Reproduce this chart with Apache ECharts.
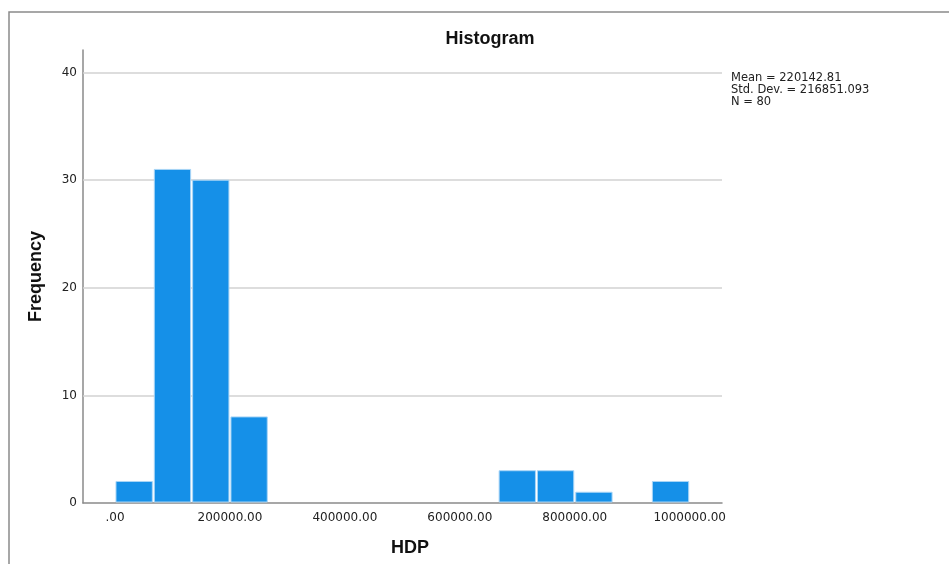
<!DOCTYPE html>
<html>
<head>
<meta charset="utf-8">
<script src="https://cdn.jsdelivr.net/npm/echarts@6.0.0/dist/echarts.min.js"></script>
<style>
html,body{margin:0;padding:0;background:#fff;}
#chart{width:949px;height:564px;}
</style>
</head>
<body>
<div id="chart"></div>
<script>
// Histogram bin edges (HDP) and frequencies
const binEdges = [0, 66667, 133333, 200000, 266667, 333333, 400000, 466667, 533333, 600000, 666667, 733333, 800000, 866667, 933333, 1000000];
const frequencies = [2, 31, 30, 8, 0, 0, 0, 0, 0, 0, 3, 3, 1, 0, 2];
const xTickValues = [0, 200000, 400000, 600000, 800000, 1000000];
const xTickLabels = ['.00', '200000.00', '400000.00', '600000.00', '800000.00', '1000000.00'];
const yTickValues = [0, 10, 20, 30, 40];
const statsLines = ['Mean = 220142.81', 'Std. Dev. = 216851.093', 'N = 80'];

const binData = frequencies.map((f, i) => [binEdges[i], binEdges[i + 1], f]);

const chart = echarts.init(document.getElementById('chart'), null, {renderer: 'canvas'});
const option = {
  animation: false,
  backgroundColor: '#fff',
  title: {
    text: 'Histogram', left: 485, top: 25, textAlign: 'center',
    textStyle: {fontFamily: 'Liberation Sans', fontWeight: 'bold', fontSize: 18, color: '#111'}
  },
  grid: {left: 83, right: 227, top: 50, bottom: 61, containLabel: false},
  xAxis: {
    type: 'value', min: -55680, max: 1056200,
    minInterval: 200000, maxInterval: 200000,
    name: 'HDP', nameLocation: 'middle', nameGap: 36,
    nameTextStyle: {fontFamily: 'Liberation Sans', fontWeight: 'bold', fontSize: 18, color: '#111', padding: [0, 0, 0, 15]},
    axisLine: {show: true, onZero: false, lineStyle: {color: '#8a8a8a', width: 1.5}},
    axisTick: {show: false},
    splitLine: {show: false},
    axisLabel: {
      margin: 9, fontFamily: 'DejaVu Sans', fontSize: 12, color: '#222',
      showMinLabel: true, showMaxLabel: true,
      formatter: v => { const i = xTickValues.indexOf(Math.round(v)); return i >= 0 ? xTickLabels[i] : ''; }
    }
  },
  yAxis: {
    type: 'value', min: 0, max: 42.1,
    minInterval: 10, maxInterval: 10,
    name: 'Frequency', nameLocation: 'middle', nameGap: 38, nameRotate: 90,
    nameTextStyle: {fontFamily: 'Liberation Sans', fontWeight: 'bold', fontSize: 18, color: '#111'},
    axisLine: {show: true, onZero: false, lineStyle: {color: '#8a8a8a', width: 1.5}},
    axisTick: {show: false},
    splitLine: {show: false},
    axisLabel: {
      margin: 6, fontFamily: 'DejaVu Sans', fontSize: 12, color: '#222',
      formatter: v => yTickValues.indexOf(Math.round(v * 1000) / 1000) >= 0 ? String(v) : ''
    }
  },
  series: [
    {
      type: 'line', data: [], z: 1, silent: true,
      markLine: {
        silent: true, symbol: 'none', label: {show: false}, z: 1,
        lineStyle: {color: '#d2d2d2', width: 1.6, type: 'solid'},
        data: yTickValues.filter(v => v > 0).map(v => ({yAxis: v}))
      }
    },
    {
      type: 'custom', z: 6,
      data: binData,
      encode: {x: [0, 1], y: 2},
      renderItem: function (params, api) {
        const x0 = api.value(0), x1 = api.value(1), y = api.value(2);
        if (!y) return null;
        const p0 = api.coord([x0, y]);
        const p1 = api.coord([x1, 0]);
        return {
          type: 'rect',
          shape: {x: p0[0] + 1, y: p0[1], width: p1[0] - p0[0] - 2, height: p1[1] - p0[1] - 1},
          style: {fill: '#1590e8', stroke: '#a9d5f6', lineWidth: 1}
        };
      }
    }
  ],
  graphic: [
    {
      type: 'polyline', silent: true,
      shape: {points: [[9, 564], [9, 12], [949, 12]]},
      style: {stroke: '#8a8a8a', lineWidth: 1.5, fill: null}
    },
    {
      type: 'text', left: 731, top: 72, silent: true,
      style: {text: statsLines.join('\n'), font: '11.5px "DejaVu Sans"', lineHeight: 12, fill: '#222'}
    }
  ]
};
chart.setOption(option);
</script>
</body>
</html>
